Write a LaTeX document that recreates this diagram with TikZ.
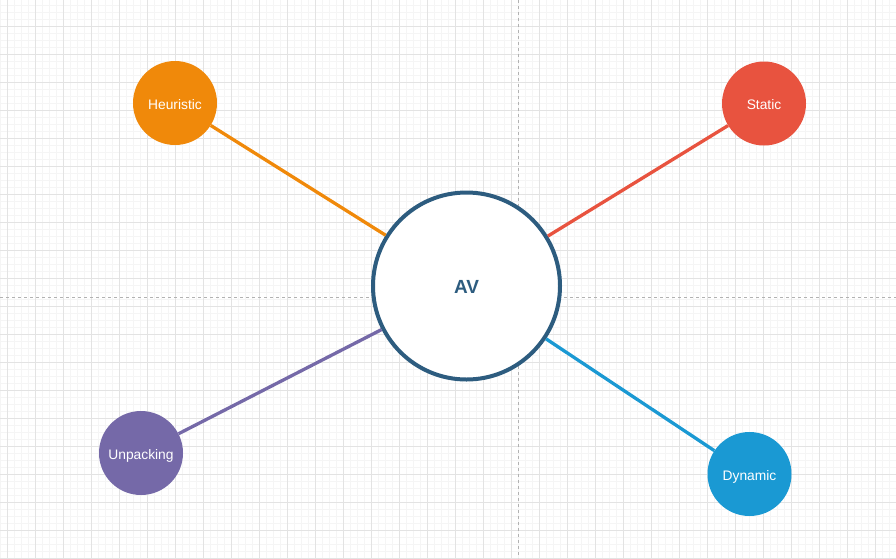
\documentclass[tikz,border=0pt]{standalone}
\usepackage{fontspec}
\setmainfont{Liberation Sans}
\usepackage{xcolor}
\definecolor{heurorange}{HTML}{F0890A}
\definecolor{statred}{HTML}{E8533F}
\definecolor{unpackpurple}{HTML}{7569A8}
\definecolor{dynblue}{HTML}{1A99D3}
\definecolor{avblue}{HTML}{2D5C7F}
\definecolor{gridmajor}{HTML}{E3E3E3}
\definecolor{gridminor}{HTML}{F5F5F5}
\tikzset{
  leaf/.style={circle,fill=#1,minimum size=84pt,inner sep=0pt,text height=12pt,text depth=0pt,text=white,font=\fontsize{13.8}{16}\selectfont},
  hub/.style={circle,draw=avblue,fill=white,line width=4pt,minimum size=187pt,inner sep=0pt,text height=15pt,text depth=0pt,text=avblue,font=\fontsize{19}{22}\selectfont\bfseries},
  link/.style={line width=3.3pt,draw=#1},
  axisline/.style={draw=black!30,line width=0.8pt,dash pattern=on 3pt off 3pt}
}

\begin{document}
\begin{tikzpicture}[x=1pt,y=-1pt]
    \useasboundingbox (0,0) rectangle (896,558);
    \fill[white] (0,0) rectangle (896,558);
    \foreach \k in {0,...,127} \draw[gridminor,line width=0.8pt] ({0.3+7*\k},0) -- ({0.3+7*\k},558);
    \foreach \k in {0,...,79} \draw[gridminor,line width=0.8pt] (0,{5+7*\k}) -- (896,{5+7*\k});
    \foreach \k in {0,...,31} \draw[gridmajor,line width=1pt] ({7.3+28*\k},0) -- ({7.3+28*\k},558);
    \foreach \k in {0,...,19} \draw[gridmajor,line width=1pt] (0,{26+28*\k}) -- (896,{26+28*\k});
    \draw[axisline] (518,0) -- (518,558);
    \draw[axisline] (0,297) -- (896,297);
    \node[hub] (av) at (466.5,286) {AV};
    \node[leaf=heurorange] (heur) at (175,103) {Heuristic};
    \node[leaf=statred] (stat) at (764,103.5) {Static};
    \node[leaf=unpackpurple] (unpack) at (141,453) {Unpacking};
    \node[leaf=dynblue] (dyn) at (749.5,474) {Dynamic};
    \draw[link=heurorange] (heur) -- (av);
    \draw[link=statred] (stat) -- (av);
    \draw[link=unpackpurple] (unpack) -- (av);
    \draw[link=dynblue] (dyn) -- (av);
\end{tikzpicture}
\end{document}
